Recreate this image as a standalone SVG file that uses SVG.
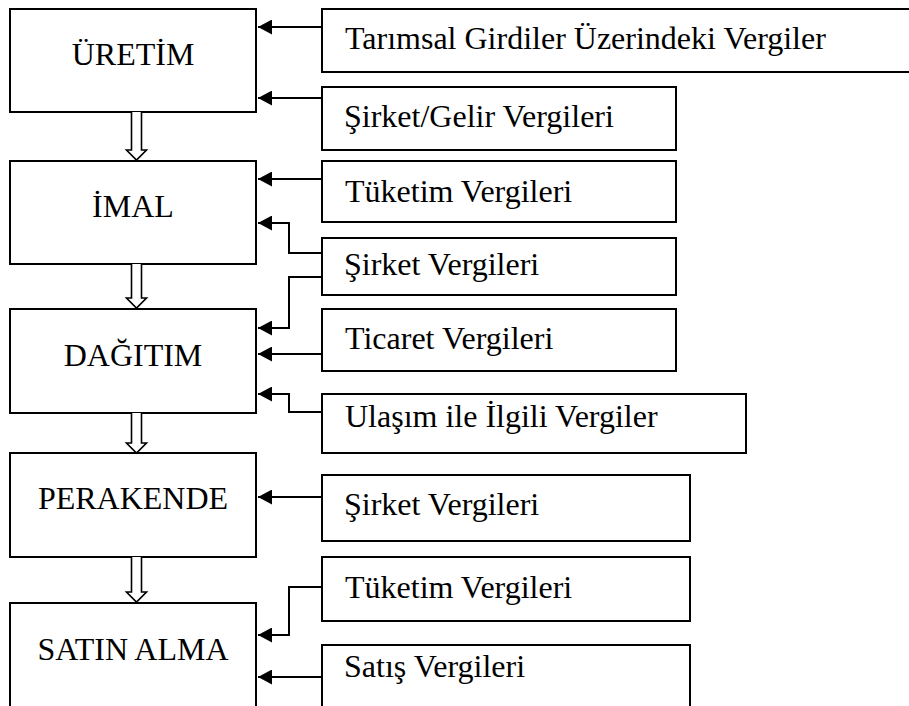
<svg xmlns="http://www.w3.org/2000/svg" width="909" height="706" viewBox="0 0 909 706">
<defs>
<style>
.box{fill:#fff;stroke:#000;stroke-width:2}
.lbl{font-family:"Liberation Serif","Times New Roman",serif;font-size:32px;fill:#000}
.c{text-anchor:middle}
.conn{fill:none;stroke:#000;stroke-width:2}
.flow{fill:#fff;stroke:#000;stroke-width:1.6}
</style>
<marker id="ah" viewBox="0 0 14 15" refX="14" refY="7.5" markerWidth="14" markerHeight="15" markerUnits="userSpaceOnUse" orient="auto">
<path d="M0,0 L14,7.5 L0,15 Z" fill="#000"/>
</marker>
</defs>
<rect width="909" height="706" fill="#fff"/>

<g id="uretim"><rect class="box" x="10" y="9" width="246" height="103"/><text class="lbl c" x="133" y="65">ÜRETİM</text></g>
<g id="imal"><rect class="box" x="10" y="161" width="246" height="103"/><text class="lbl c" x="133" y="217">İMAL</text></g>
<g id="dagitim"><rect class="box" x="10" y="309" width="246" height="104"/><text class="lbl c" x="133" y="366">DAĞITIM</text></g>
<g id="perakende"><rect class="box" x="10" y="453" width="246" height="104"/><text class="lbl c" x="133" y="509">PERAKENDE</text></g>
<g id="satinalma"><rect class="box" x="10" y="603" width="246" height="120"/><text class="lbl c" x="133" y="660">SATIN ALMA</text></g>

<g id="t1"><rect class="box" x="322" y="9" width="600" height="63"/><text class="lbl" x="345" y="49">Tarımsal Girdiler Üzerindeki Vergiler</text></g>
<g id="t2"><rect class="box" x="322" y="87" width="354" height="63"/><text class="lbl" x="344" y="127">Şirket/Gelir Vergileri</text></g>
<g id="t3"><rect class="box" x="322" y="161" width="354" height="61"/><text class="lbl" x="345" y="202">Tüketim Vergileri</text></g>
<g id="t4"><rect class="box" x="322" y="238" width="354" height="57"/><text class="lbl" x="344" y="275">Şirket Vergileri</text></g>
<g id="t5"><rect class="box" x="322" y="309" width="354" height="62"/><text class="lbl" x="345" y="349">Ticaret Vergileri</text></g>
<g id="t6"><rect class="box" x="322" y="394" width="424" height="59"/><text class="lbl" x="345" y="427">Ulaşım ile İlgili Vergiler</text></g>
<g id="t7"><rect class="box" x="322" y="475" width="368" height="66"/><text class="lbl" x="344" y="515">Şirket Vergileri</text></g>
<g id="t8"><rect class="box" x="322" y="557" width="368" height="64"/><text class="lbl" x="345" y="598">Tüketim Vergileri</text></g>
<g id="t9"><rect class="box" x="322" y="645" width="368" height="80"/><text class="lbl" x="344" y="677">Satış Vergileri</text></g>

<g id="connectors">
<path class="conn" marker-end="url(#ah)" d="M322,27 L258,27"/>
<path class="conn" marker-end="url(#ah)" d="M322,98 L258,98"/>
<path class="conn" marker-end="url(#ah)" d="M322,179 L258,179"/>
<path class="conn" marker-end="url(#ah)" d="M322,253 L289,253 L289,223 L258,223"/>
<path class="conn" marker-end="url(#ah)" d="M322,277 L289,277 L289,328 L258,328"/>
<path class="conn" marker-end="url(#ah)" d="M322,354 L258,354"/>
<path class="conn" marker-end="url(#ah)" d="M322,412 L289,412 L289,394 L258,394"/>
<path class="conn" marker-end="url(#ah)" d="M322,497 L258,497"/>
<path class="conn" marker-end="url(#ah)" d="M322,587 L289,587 L289,635 L258,635"/>
<path class="conn" marker-end="url(#ah)" d="M322,677 L258,677"/>
<path class="flow" d="M131.5,112 L131.5,150 L126.5,150 L136.5,160 L146.5,150 L141.5,150 L141.5,112"/>
<path class="flow" d="M131.5,264 L131.5,298 L126.5,298 L136.5,308 L146.5,298 L141.5,298 L141.5,264"/>
<path class="flow" d="M131.5,413 L131.5,443 L126.5,443 L136.5,453 L146.5,443 L141.5,443 L141.5,413"/>
<path class="flow" d="M131.5,557 L131.5,592 L126.5,592 L136.5,602 L146.5,592 L141.5,592 L141.5,557"/>
</g>
</svg>
